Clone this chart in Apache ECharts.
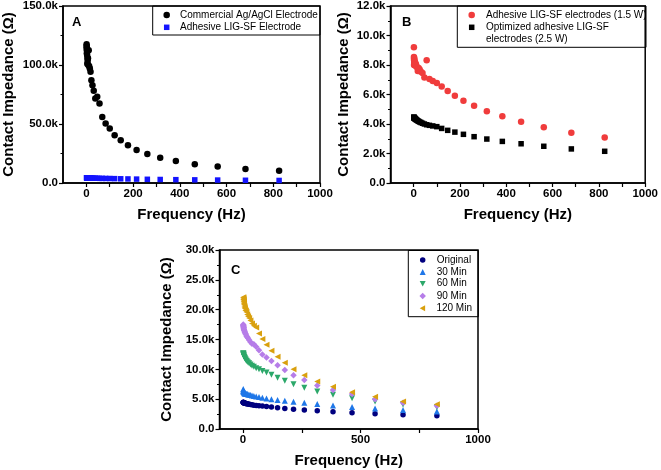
<!DOCTYPE html>
<html><head><meta charset="utf-8">
<script src="https://cdn.jsdelivr.net/npm/echarts@6/dist/echarts.min.js"></script>
<style>html,body{margin:0;padding:0;background:#fff}#c{width:661px;height:470px}</style>
</head><body><div id="c"></div>
<script>
// Frequency points (Hz)
const freq = [1, 1.21, 1.47, 1.78, 2.15, 2.61, 3.16, 3.83, 4.64, 5.62, 6.81, 8.25, 10, 12.1, 14.7, 17.8, 21.5, 26.1, 31.6, 38.3, 46.4, 56.2, 68.1, 82.5, 100, 121, 147, 178, 215, 261, 316, 383, 464, 562, 681, 825];
// Panel A (kΩ)
const aCommercial = [117.5, 116.0, 113.5, 115.0, 110.0, 112.0, 108.5, 101.0, 106.0, 103.5, 105.8, 100.0, 112.6, 99.0, 97.0, 94.2, 87.1, 82.9, 78.1, 71.6, 73.0, 67.4, 56.0, 50.4, 46.1, 40.5, 36.2, 32.0, 28.0, 24.6, 21.5, 18.7, 15.8, 13.9, 11.9, 10.3];
const aAdhesive = [4.47, 4.45, 4.44, 4.43, 4.42, 4.41, 4.40, 4.39, 4.38, 4.37, 4.35, 4.33, 4.31, 4.28, 4.25, 4.22, 4.18, 4.14, 4.10, 4.05, 4.00, 3.95, 3.91, 3.87, 3.82, 3.70, 3.57, 3.45, 3.30, 3.14, 2.98, 2.82, 2.66, 2.49, 2.31, 2.15];
// Panel B (kΩ)
const bAdhesive15 = [9.2, 8.55, 8.4, 8.0, 8.3, 8.45, 8.2, 8.1, 8.25, 8.0, 8.15, 7.95, 8.05, 7.9, 7.85, 7.6, 7.8, 7.7, 7.55, 7.45, 7.15, 8.32, 7.05, 6.92, 6.78, 6.54, 6.23, 5.92, 5.58, 5.24, 4.87, 4.53, 4.15, 3.78, 3.41, 3.08];
const bOptimized25 = [4.47, 4.45, 4.44, 4.43, 4.42, 4.41, 4.40, 4.39, 4.38, 4.37, 4.35, 4.33, 4.31, 4.28, 4.25, 4.22, 4.18, 4.14, 4.10, 4.05, 4.00, 3.95, 3.91, 3.87, 3.82, 3.70, 3.57, 3.45, 3.30, 3.14, 2.98, 2.82, 2.66, 2.49, 2.31, 2.15];
// Panel C (kΩ)
const cOriginal = [4.47, 4.46, 4.45, 4.44, 4.43, 4.42, 4.41, 4.40, 4.38, 4.37, 4.35, 4.33, 4.31, 4.28, 4.25, 4.22, 4.18, 4.14, 4.10, 4.05, 4.00, 3.95, 3.90, 3.85, 3.78, 3.68, 3.56, 3.45, 3.30, 3.17, 3.05, 2.90, 2.73, 2.56, 2.40, 2.23];
const c30 = [6.7, 6.4, 6.5, 6.3, 6.4, 6.2, 6.3, 6.1, 6.2, 6.0, 6.1, 5.9, 6.0, 5.95, 5.85, 5.9, 5.8, 5.75, 5.7, 5.6, 5.55, 5.45, 5.35, 5.25, 5.1, 4.97, 4.86, 4.72, 4.58, 4.42, 4.2, 3.95, 3.68, 3.45, 3.2, 2.95];
const c60 = [12.7, 12.6, 12.5, 12.6, 12.4, 12.45, 12.3, 12.2, 12.1, 12.05, 11.95, 11.85, 11.7, 11.6, 11.45, 11.3, 11.15, 11.0, 10.8, 10.6, 10.45, 10.2, 10.0, 9.7, 9.45, 9.1, 8.6, 8.1, 7.5, 6.9, 6.3, 5.75, 5.15, 4.6, 4.1, 3.65];
const c90 = [17.5, 17.3, 17.4, 17.1, 17.2, 16.9, 17.0, 16.7, 16.6, 16.5, 16.3, 16.2, 16.0, 15.9, 15.6, 15.4, 15.2, 14.9, 14.6, 14.3, 14.2, 13.8, 13.2, 12.5, 12.0, 11.4, 10.7, 9.9, 9.0, 8.2, 7.3, 6.55, 5.85, 5.0, 4.4, 3.9];
const c120 = [22.1, 21.8, 22.0, 21.6, 21.7, 21.3, 21.4, 21.0, 20.9, 20.6, 20.4, 20.2, 19.9, 19.8, 19.6, 19.2, 18.9, 18.6, 18.2, 17.7, 17.3, 17.0, 16.0, 15.1, 14.1, 13.1, 12.1, 11.1, 10.0, 9.0, 7.95, 7.1, 6.15, 5.4, 4.6, 4.13];
// Tick values
const xLabelsAB = [0, 200, 400, 600, 800, 1000];
const xTicksAB = [0, 100, 200, 300, 400, 500, 600, 700, 800, 900, 1000];
const xLabelsC = [0, 500, 1000];
const xTicksC = [0, 250, 500, 750, 1000];

const FONT = 'Arial, "Liberation Sans", sans-serif';
const pts = ys => freq.map((f, i) => [f, ys[i]]);

function xAx(gi, labels, ticks) {
  return {
    type: 'value', gridIndex: gi, min: -100, max: 1000, interval: 100,
    name: 'Frequency (Hz)', nameLocation: 'middle', nameGap: 24,
    nameTextStyle: {fontFamily: FONT, fontWeight: 'bold', fontSize: 15, color: '#000'},
    axisLine: {show: true, onZero: false, lineStyle: {color: '#000', width: 1.5}},
    axisTick: {show: true, inside: false, length: 4, customValues: ticks, lineStyle: {color: '#000', width: 1.2}},
    axisLabel: {show: true, customValues: labels, margin: 5, fontFamily: FONT, fontWeight: 'bold', fontSize: 11.5, color: '#000',
      formatter: v => labels.indexOf(v) >= 0 ? String(v) : ''},
    splitLine: {show: false}
  };
}
function yAx(gi, max, interval, gap) {
  return {
    type: 'value', gridIndex: gi, min: 0, max: max, interval: interval,
    name: 'Contact Impedance (Ω)', nameLocation: 'middle', nameGap: gap,
    nameTextStyle: {fontFamily: FONT, fontWeight: 'bold', fontSize: 15, color: '#000'},
    axisLine: {show: true, onZero: false, lineStyle: {color: '#000', width: 1.5}},
    axisTick: {show: true, inside: false, length: 4, lineStyle: {color: '#000', width: 1.2}},
    minorTick: {show: true, splitNumber: 2, length: 2.5, lineStyle: {color: '#000', width: 1}},
    axisLabel: {show: true, margin: 5, fontFamily: FONT, fontWeight: 'bold', fontSize: 11.5, color: '#000',
      formatter: v => v === 0 ? '0.0' : v.toFixed(1) + 'k'},
    splitLine: {show: false}
  };
}
function lg(name, icx, cy, tx, size, shown) {
  const padLeft = tx - (icx + size / 2) - 5;
  return {
    show: true, selectedMode: false, orient: 'vertical', padding: 0,
    left: icx - size / 2, top: cy - 6,
    itemWidth: size, itemHeight: size,
    formatter: shown ? () => shown : undefined,
    data: [{name: name, textStyle: {padding: [0, 0, 0, padLeft]}}],
    textStyle: {fontFamily: FONT, fontSize: 10, color: '#000', lineHeight: 12}
  };
}
function sc(name, gi, ys, symbol, size, color) {
  return {type: 'scatter', name: name, xAxisIndex: gi, yAxisIndex: gi, data: pts(ys),
    symbol: symbol, symbolSize: size, itemStyle: {color: color, opacity: 1}, emphasis: {disabled: true}};
}
const DOWN = 'path://M0,0L10,0L5,9Z';
const LEFT = 'path://M9,0L9,10L0,5Z';
const gridStyle = {show: true, borderColor: '#000', borderWidth: 1.5, backgroundColor: 'transparent'};
const OPT_NAME = 'Optimized adhesive LIG-SF electrodes (2.5 W)';

const option = {
  animation: false,
  backgroundColor: '#fff',
  grid: [
    Object.assign({left: 63, right: 341, top: 6, bottom: 287}, gridStyle),
    Object.assign({left: 390.5, right: 15, top: 6, bottom: 287}, gridStyle),
    Object.assign({left: 219.5, right: 183, top: 250, bottom: 41}, gridStyle)
  ],
  xAxis: [xAx(0, xLabelsAB, xTicksAB), xAx(1, xLabelsAB, xTicksAB), xAx(2, xLabelsC, xTicksC)],
  yAxis: [yAx(0, 150, 50, 47), yAx(1, 12, 2, 39), yAx(2, 30, 5, 45)],
  legend: [
    lg('Commercial Ag/AgCl Electrode', 166.7, 15, 180, 6.5),
    lg('Adhesive LIG-SF Electrode', 166.7, 27.3, 180, 5.5),
    lg('Adhesive LIG-SF electrodes (1.5 W)', 471.7, 15, 486, 6.5),
    lg(OPT_NAME, 471.7, 27.3, 486, 5.5, 'Optimized adhesive LIG-SF'),
    lg('Original', 422.7, 260, 436.7, 5.5),
    lg('30 Min', 422.7, 272, 436.7, 6),
    lg('60 Min', 422.7, 283.7, 436.7, 6),
    lg('90 Min', 422.7, 296, 436.7, 6.5),
    lg('120 Min', 422.7, 308.3, 436.7, 6)
  ],
  graphic: [
    {type: 'rect', shape: {x: 152.7, y: 6, width: 167.3, height: 29}, style: {fill: 'none', stroke: '#000', lineWidth: 1}},
    {type: 'rect', shape: {x: 457.3, y: 6, width: 188.7, height: 41.3}, style: {fill: 'none', stroke: '#000', lineWidth: 1}},
    {type: 'rect', shape: {x: 408.3, y: 250.5, width: 70, height: 66.2}, style: {fill: 'none', stroke: '#000', lineWidth: 1}},
    {type: 'text', x: 486, y: 39.5, style: {text: 'electrodes (2.5 W)', font: '10px ' + FONT, fill: '#000', textVerticalAlign: 'middle', verticalAlign: 'middle'}},
    {type: 'text', left: 72, top: 16, style: {text: 'A', font: 'bold 13px ' + FONT, fill: '#000'}},
    {type: 'text', left: 402, top: 16, style: {text: 'B', font: 'bold 13px ' + FONT, fill: '#000'}},
    {type: 'text', left: 231, top: 264, style: {text: 'C', font: 'bold 13px ' + FONT, fill: '#000'}}
  ],
  series: [
    sc('Adhesive LIG-SF Electrode', 0, aAdhesive, 'rect', 5.5, '#1414ff'),
    sc('Commercial Ag/AgCl Electrode', 0, aCommercial, 'circle', 6.5, '#000'),
    sc(OPT_NAME, 1, bOptimized25, 'rect', 5.5, '#000'),
    sc('Adhesive LIG-SF electrodes (1.5 W)', 1, bAdhesive15, 'circle', 6.5, '#f03c3c'),
    sc('Original', 2, cOriginal, 'circle', 5.5, '#00007f'),
    sc('30 Min', 2, c30, 'triangle', 6, '#1f77e8'),
    sc('60 Min', 2, c60, DOWN, 6, '#2ca86a'),
    sc('90 Min', 2, c90, 'diamond', 6.5, '#b67de8'),
    sc('120 Min', 2, c120, LEFT, 6, '#d9a00e')
  ]
};
echarts.init(document.getElementById('c'), null, {renderer: 'canvas'}).setOption(option);
</script>
</body></html>
